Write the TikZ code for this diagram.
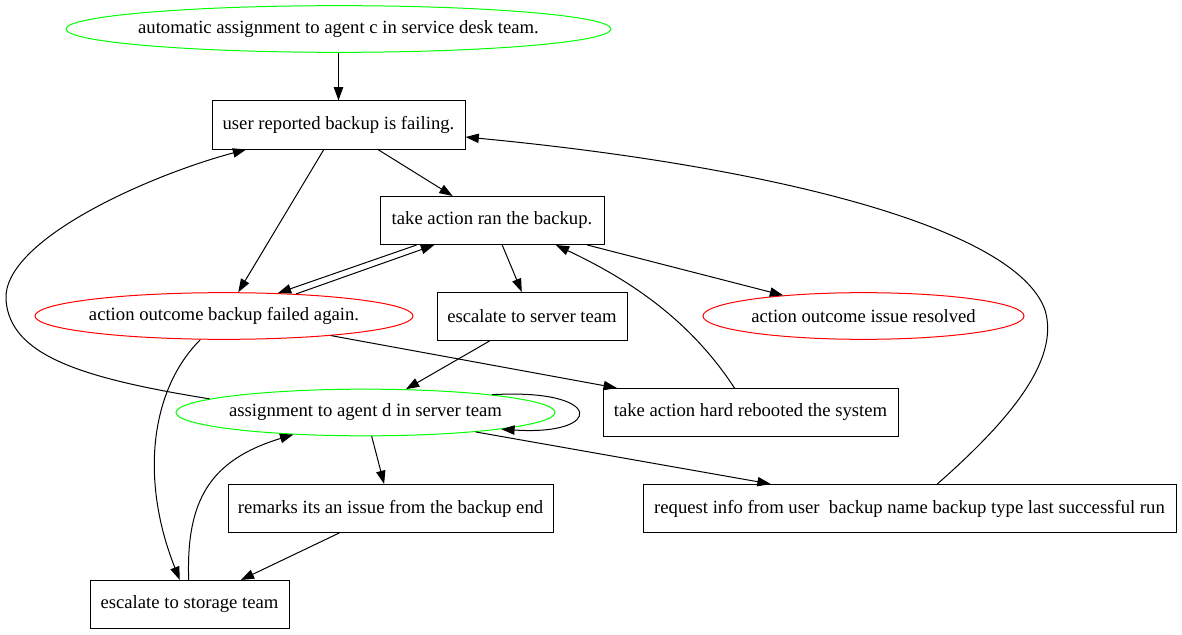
\documentclass[tikz,border=0pt]{standalone}
\usepackage{fontspec}
\setmainfont{Liberation Serif}
\usepackage{tikz}
\usetikzlibrary{arrows.meta,shapes.geometric}
\tikzstyle{actbox} = [rectangle, minimum height = 36pt, inner sep = 0pt, text centered, draw = black]
\tikzstyle{ovalnode} = [ellipse, minimum height = 35pt, inner ysep = 0pt, inner xsep = -40pt, text centered]
\tikzstyle{agentoval} = [ovalnode, draw = green]
\tikzstyle{outcomeoval} = [ovalnode, draw = red]

\begin{document}
\begin{tikzpicture}[x = 0.75pt, y = -0.75pt, line width = 0.75pt, font = \fontsize{14}{17}\selectfont, >={Triangle[length=10pt, width=7pt]}]
        \useasboundingbox (0,0) rectangle (1182,635);
        \node (auto) [agentoval, minimum width = 408.75pt] at (338.5,29) {automatic assignment to agent c in service desk team.};
        \node (user) [actbox, minimum width = 189.75pt] at (338.5,125) {user reported backup is failing.};
        \node (ran) [actbox, minimum width = 168pt] at (492,220.5) {take action ran the backup.};
        \node (failed) [outcomeoval, minimum width = 283.5pt] at (224,316) {action outcome backup failed again.};
        \node (server) [actbox, minimum width = 142.5pt] at (532,316.5) {escalate to server team};
        \node (resolved) [outcomeoval, minimum width = 240.75pt] at (863.5,316) {action outcome issue resolved};
        \node (agentd) [agentoval, minimum width = 284.25pt] at (365.5,412.5) {assignment to agent d in server team};
        \node (reboot) [actbox, minimum width = 221.25pt] at (750.5,412.5) {take action hard rebooted the system};
        \node (remarks) [actbox, minimum width = 243.75pt] at (390.5,508.5) {remarks its an issue from the backup end};
        \node (request) [actbox, minimum width = 399.75pt] at (909.5,508.5) {request info from user\ \ backup name backup type last successful run};
        \node (storage) [actbox, minimum width = 149.25pt] at (189.5,604.5) {escalate to storage team};
        \draw [->] (auto) -- (user);
        \draw [->] (user) -- (ran);
        \draw [->] (user) -- (failed);
        \draw [->] (ran.198) -- (failed.23);
        \draw [->] (failed.17) -- (ran.203);
        \draw [->] (ran) -- (server);
        \draw [->] (ran) -- (resolved);
        \draw [->] (reboot) .. controls (690,320) and (630,280) .. (ran.-21);
        \draw [->] (failed) -- (reboot);
        \draw [->] (server) -- (agentd);
        \draw [->] (agentd.175) .. controls (80,378) and (10,355) .. (6,300) .. controls (2,240) and (150,175) .. (user);
        \draw [->] (failed) .. controls (150,390) and (140,480) .. (storage);
        \draw [->] (storage) .. controls (186,500) and (210,460) .. (agentd);
        \draw [->] (agentd.8) .. controls (605,388) and (605,436) .. (agentd.-7);
        \draw [->] (agentd) -- (remarks);
        \draw [->] (remarks) -- (storage);
        \draw [->] (agentd) -- (request);
        \draw [->] (request) .. controls (1010,420) and (1060,360) .. (1045,310) .. controls (1015,225) and (760,165) .. (user);
\end{tikzpicture}
\end{document}
